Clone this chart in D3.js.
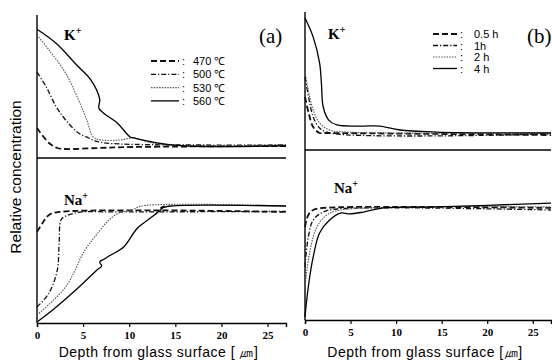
<!DOCTYPE html>
<html><head><meta charset="utf-8">
<script src="https://cdn.jsdelivr.net/npm/d3@7"></script>
<style>body{margin:0;background:#fff}svg{display:block}</style>
</head><body>
<svg id="c" width="552" height="363"></svg>
<script>
// ---- data (depth in µm, relative concentration in arbitrary 0-100 units per sub-panel)
const xTicks = [0, 5, 10, 15, 20, 25];
const legendA = ["470 ℃", "500 ℃", "530 ℃", "560 ℃"];
const legendB = ["0.5 h", "1h", "2 h", "4 h"];

// Panel (a) K+
const aK470x = [0, 1.3, 2.2, 3.1, 6.7, 10.5, 27];
const aK470y = [21, 10.5, 7, 6.3, 7, 7.7, 8.4];
const aK500x = [0, 1.0, 2.1, 3.1, 4.5, 5.6, 6.7, 9, 27];
const aK500y = [60, 49.7, 35.7, 26.6, 17.5, 14, 11.2, 9.8, 9.1];
const aK530x = [0, 1.3, 3.1, 4.5, 5.4, 6.1, 7.0, 9.0, 10.5, 12, 14.8, 27];
const aK530y = [86, 75.5, 59.4, 40.6, 26.6, 14.7, 12.6, 12.6, 14, 11.2, 9.1, 9.1];
const aK560x = [0, 2.1, 4.3, 5.8, 6.8, 6.7, 7.2, 8.7, 10.1, 10.5, 14.8, 27];
const aK560y = [90, 80, 65, 55, 41, 35, 31.5, 24.5, 14.7, 14, 9, 8.5];
// Panel (a) Na+
const aNa470x = [0, 0.6, 1.3, 2.4, 27];
const aNa470y = [55.2, 60.6, 65.5, 67.3, 67.3];
const aNa500x = [0, 1.3, 2.2, 2.4, 2.6, 3.1, 4.9, 8, 27];
const aNa500y = [9.7, 18.2, 32.1, 48.5, 62.4, 64.8, 67.3, 67.3, 67.6];
const aNa530x = [0, 3.1, 5.2, 6.7, 7.8, 8.9, 10.3, 11.3, 27];
const aNa530y = [4.8, 21.8, 44.2, 55.2, 62.4, 66.7, 68.5, 70.9, 70.9];
const aNa560x = [0, 1.7, 4.2, 6.5, 7.0, 6.8, 7.3, 8.0, 9.4, 10.9, 12.3, 13.4, 13.8, 13.4, 14.5, 27];
const aNa560y = [0.6, 7.9, 20, 32.1, 34.5, 37, 38.8, 41.2, 46.1, 57.6, 63.6, 68.5, 70.9, 69.7, 70.9, 70.9];
// Panel (b) K+
const bK05x = [0, 0.4, 0.9, 1.6, 2.3, 27];
const bK05y = [39, 27.2, 16.9, 12.5, 12.5, 11];
const bK1x = [0, 0.4, 0.9, 1.6, 2.7, 27];
const bK1y = [53.7, 39, 24.3, 16.2, 12.5, 11.8];
const bK2x = [0, 0.36, 0.9, 1.6, 2.7, 4.5, 27];
const bK2y = [57.4, 44.1, 29.4, 19.9, 14.7, 13.2, 12.5];
const bK4x = [0, 0.9, 1.6, 1.8, 2.0, 2.6, 3.5, 6.4, 8.2, 10.4, 14.4, 27];
const bK4y = [97, 83, 64, 49.3, 31.6, 22, 18.4, 17.6, 17.6, 14.7, 13.2, 12.5];
// Panel (b) Na+
const bNa05x = [0, 0.36, 0.9, 2.0, 27];
const bNa05y = [54.7, 61.8, 64.7, 65.9, 65.9];
const bNa1x = [0, 0.36, 0.9, 2.0, 3.5, 27];
const bNa1y = [31.2, 48.8, 58.8, 63.5, 65.3, 64.7];
const bNa2x = [0, 0.5, 1.3, 2.4, 3.9, 27];
const bNa2y = [19.4, 39.4, 54.7, 61.8, 64.7, 66.5];
const bNa4x = [0, 0.36, 0.9, 1.6, 2.7, 3.9, 4.9, 6.4, 8.6, 14.4, 27];
const bNa4y = [1.8, 19.4, 37.1, 51.2, 58.8, 62.9, 62.4, 63.5, 65.9, 66.5, 68.8];

// ---- styles
const styles = [
  {dash: "6,3", w: 1.8, c: "#111"},
  {dash: "5,2,1.2,2", w: 1.3, c: "#111"},
  {dash: "1.5,1.2", w: 1.1, c: "#555"},
  {dash: null, w: 1.3, c: "#000"}
];

const svg = d3.select("#c");
const zip = (xs, ys) => xs.map((x, i) => ({x, y: ys[i]}));

function panel(cfg) {
  const x = d3.scaleLinear().domain([0, 27]).range([cfg.x0, cfg.x1]);
  const yTop = d3.scaleLinear().domain([0, 100]).range([cfg.mid, cfg.top]);
  const yBot = d3.scaleLinear().domain([0, 100]).range([cfg.bottom, cfg.mid]);
  const g = svg.append("g");
  g.append("line").attr("x1", cfg.x0).attr("x2", cfg.x0).attr("y1", cfg.axTop).attr("y2", cfg.bottom)
    .attr("stroke", "#000").attr("stroke-width", 1.4);
  g.append("line").attr("x1", cfg.x0).attr("x2", cfg.x1).attr("y1", cfg.mid).attr("y2", cfg.mid)
    .attr("stroke", "#000").attr("stroke-width", 1.3);
  const ax = g.append("g").attr("transform", `translate(0,${cfg.bottom})`)
    .call(d3.axisBottom(x).tickValues(xTicks).tickSize(4).tickPadding(4).tickFormat(d3.format("d")));
  ax.select(".domain").attr("stroke-width", 1.4);
  ax.selectAll("text").attr("font-family", "Liberation Serif, serif").attr("font-weight", "bold")
    .attr("font-size", 11).attr("fill", "#000");
  ax.selectAll("line").attr("stroke-width", 1.2);
  const line = sc => d3.line().x(d => x(d.x)).y(d => sc(d.y)).curve(d3.curveCatmullRom.alpha(0.5));
  cfg.top_series.forEach((s, i) => {
    g.append("path").datum(s).attr("d", line(yTop)).attr("fill", "none")
      .attr("stroke", styles[i].c).attr("stroke-width", styles[i].w)
      .attr("stroke-dasharray", styles[i].dash);
  });
  cfg.bot_series.forEach((s, i) => {
    g.append("path").datum(s).attr("d", line(yBot)).attr("fill", "none")
      .attr("stroke", styles[i].c).attr("stroke-width", styles[i].w)
      .attr("stroke-dasharray", styles[i].dash);
  });
  g.append("text").attr("x", cfg.labX).attr("y", cfg.labY).text(cfg.label)
    .attr("font-family", "Liberation Serif, serif").attr("font-size", 21);
  const ion = (px, py, base) => {
    const t = g.append("text").attr("x", px).attr("y", py)
      .attr("font-family", "Liberation Serif, serif").attr("font-weight", "bold").attr("font-size", 15);
    t.append("tspan").text(base);
    t.append("tspan").text("+").attr("font-size", 10).attr("dy", -6);
  };
  ion(cfg.kX, cfg.kY, "K");
  ion(cfg.naX, cfg.naY, "Na");
  cfg.legend.forEach((lab, i) => {
    const ly = cfg.legY + i * cfg.legStep;
    g.append("line").attr("x1", cfg.legX).attr("x2", cfg.legX + cfg.legLen).attr("y1", ly).attr("y2", ly)
      .attr("stroke", styles[i].c).attr("stroke-width", styles[i].w).attr("stroke-dasharray", styles[i].dash);
    g.append("text").attr("x", cfg.legX + cfg.legLen + 3).attr("y", ly + 4).text(":")
      .attr("font-family", "Liberation Sans, Arial, sans-serif").attr("font-size", 11);
    g.append("text").attr("x", cfg.legTX).attr("y", ly + 4).text(lab)
      .attr("font-family", "Liberation Sans, Arial, sans-serif").attr("font-size", 11);
  });
  g.append("text").attr("x", (cfg.x0 + cfg.x1) / 2 - 3).attr("y", 357).attr("text-anchor", "middle")
    .attr("font-family", "Liberation Sans, Arial, sans-serif").attr("font-size", 14).attr("letter-spacing", 0.5)
    .text(cfg.xtitle);
}

panel({
  x0: 37, x1: 286, top: 15, axTop: 15, mid: 158, bottom: 323,
  top_series: [zip(aK470x, aK470y), zip(aK500x, aK500y), zip(aK530x, aK530y), zip(aK560x, aK560y)],
  bot_series: [zip(aNa470x, aNa470y), zip(aNa500x, aNa500y), zip(aNa530x, aNa530y), zip(aNa560x, aNa560y)],
  label: "(a)", labX: 259, labY: 43,
  kX: 64, kY: 40, naX: 64, naY: 205,
  legend: legendA, legX: 151, legLen: 28, legTX: 193, legY: 61, legStep: 13.3,
  xtitle: "Depth from glass surface [ ㎛]"
});
panel({
  x0: 305, x1: 551, top: 14, axTop: 12, mid: 150, bottom: 320,
  top_series: [zip(bK05x, bK05y), zip(bK1x, bK1y), zip(bK2x, bK2y), zip(bK4x, bK4y)],
  bot_series: [zip(bNa05x, bNa05y), zip(bNa1x, bNa1y), zip(bNa2x, bNa2y), zip(bNa4x, bNa4y)],
  label: "(b)", labX: 527, labY: 43,
  kX: 328, kY: 39, naX: 334, naY: 193,
  legend: legendB, legX: 433, legLen: 24, legTX: 474, legY: 34, legStep: 11.5,
  xtitle: "Depth from glass surface [㎛]"
});
svg.append("text").attr("transform", "translate(21,177) rotate(-90)").attr("text-anchor", "middle")
  .attr("font-family", "Liberation Sans, Arial, sans-serif").attr("font-size", 15.5)
  .text("Relative concentration");
</script>
</body></html>
